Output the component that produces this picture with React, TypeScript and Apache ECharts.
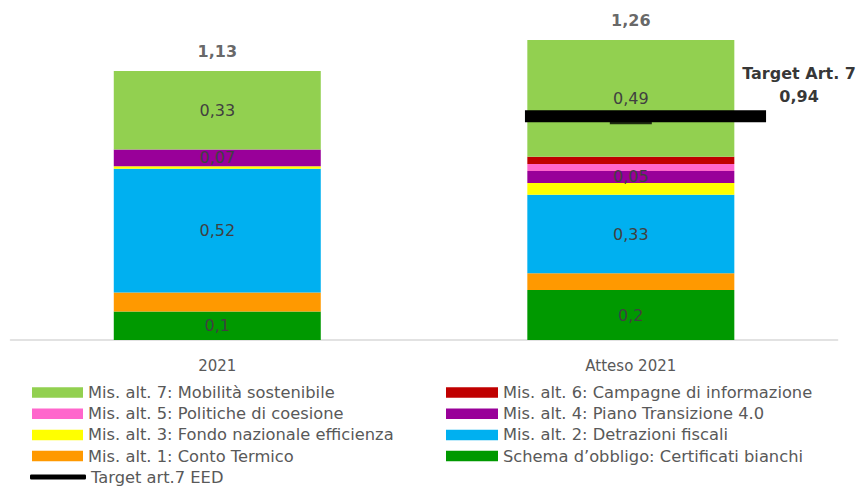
import React, { useEffect, useRef } from "react";
import * as echarts from "echarts";

const categories = ["2021", "Atteso 2021"];
const schemaCB = [0.12, 0.21];
const mis1 = [0.08, 0.07];
const mis2 = [0.52, 0.33];
const mis3 = [0.01, 0.05];
const mis4 = [0.07, 0.05];
const mis5 = [0, 0.03];
const mis6 = [0, 0.03];
const mis7 = [0.33, 0.49];
const schemaLabels = ["0,1", "0,2"];
const targetValue = 0.94;

const FONT = "DejaVu Sans";
const fmt = (v: number) => String(Math.round(v * 100) / 100).replace(".", ",");

const seriesDefs = [
  { name: "Schema d\u2019obbligo: Certificati bianchi", data: schemaCB, color: "#009900", labels: schemaLabels },
  { name: "Mis. alt. 1: Conto Termico", data: mis1, color: "#FF9900", labels: null },
  { name: "Mis. alt. 2: Detrazioni fiscali", data: mis2, color: "#00B0F0", labels: mis2.map(fmt) },
  { name: "Mis. alt. 3: Fondo nazionale efficienza", data: mis3, color: "#FFFF00", labels: null },
  { name: "Mis. alt. 4: Piano Transizione 4.0", data: mis4, color: "#990099", labels: mis4.map(fmt) },
  { name: "Mis. alt. 5: Politiche di coesione", data: mis5, color: "#FF66CC", labels: null },
  { name: "Mis. alt. 6: Campagne di informazione", data: mis6, color: "#C00000", labels: null },
  { name: "Mis. alt. 7: Mobilità sostenibile", data: mis7, color: "#92D050", labels: mis7.map(fmt) },
];
const targetName = "Target art.7 EED";

export default function App() {
  const ref = useRef<HTMLDivElement>(null);
  useEffect(() => {
    if (!ref.current) return;
    const chart = echarts.init(ref.current, null, { renderer: "svg" });
    const totals = categories.map((_, i) =>
      Math.round(seriesDefs.reduce((s, d) => s + d.data[i], 0) * 100) / 100
    );
    const legendText = { color: "#595959", fontSize: 16.3, fontFamily: FONT, lineHeight: 16 };
    const barSeries = seriesDefs.map((d) => ({
      name: d.name,
      type: "bar",
      stack: "total",
      barWidth: 207,
      itemStyle: { color: d.color },
      data: d.data.map((v, i) => ({
        value: v,
        label: {
          show: !!(d.labels && d.labels[i]),
          formatter: d.labels ? d.labels[i] : "",
        },
      })),
      label: {
        show: false,
        position: "inside",
        color: "#404040",
        fontSize: 16,
        fontFamily: FONT,
      },
    }));
    chart.setOption({
      animation: false,
      grid: { left: 10.5, right: 27.4, top: 6.8, bottom: 146, containLabel: false },
      xAxis: [
        {
          type: "category",
          data: categories,
          axisLine: { lineStyle: { color: "#D9D9D9", width: 1.5 } },
          axisTick: { show: false },
          axisLabel: { color: "#595959", fontSize: 15, fontFamily: FONT, margin: 18 },
        },
        { type: "value", min: 0, max: 2, show: false },
      ],
      yAxis: { type: "value", min: 0, max: 1.4, show: false, splitLine: { show: false } },
      legend: [
        {
          orient: "vertical",
          left: 32,
          top: 384.5,
          padding: 0,
          itemWidth: 51,
          itemHeight: 10.5,
          itemGap: 5.2,
          icon: "rect",
          textStyle: legendText,
          data: [
            "Mis. alt. 7: Mobilità sostenibile",
            "Mis. alt. 5: Politiche di coesione",
            "Mis. alt. 3: Fondo nazionale efficienza",
            "Mis. alt. 1: Conto Termico",
          ],
        },
        {
          orient: "vertical",
          left: 446,
          top: 384.5,
          padding: 0,
          itemWidth: 52,
          itemHeight: 10.5,
          itemGap: 5.2,
          icon: "rect",
          textStyle: legendText,
          data: [
            "Mis. alt. 6: Campagne di informazione",
            "Mis. alt. 4: Piano Transizione 4.0",
            "Mis. alt. 2: Detrazioni fiscali",
            "Schema d\u2019obbligo: Certificati bianchi",
          ],
        },
        {
          orient: "vertical",
          left: 30,
          top: 469,
          padding: 0,
          itemWidth: 56,
          itemHeight: 5,
          icon: "roundRect",
          textStyle: legendText,
          data: [targetName],
        },
      ],
      series: [
        ...barSeries,
        {
          name: "totals",
          type: "scatter",
          symbolSize: 0,
          data: totals.map((t, i) => [i, t]),
          label: {
            show: true,
            position: "top",
            distance: 12,
            formatter: (p: any) => fmt(p.value[1]),
            color: "#404040",
            fontSize: 16,
            fontWeight: "bold",
            fontFamily: FONT,
          },
          itemStyle: { color: "transparent" },
          silent: true,
        },
        {
          name: targetName,
          type: "line",
          xAxisIndex: 1,
          symbol: "none",
          lineStyle: { color: "#000000", width: 12 },
          itemStyle: { color: "#000000" },
          data: [
            [1.244, targetValue],
            [1.827, targetValue],
          ],
          z: 5,
        },
        {
          name: "targetMarker",
          type: "scatter",
          xAxisIndex: 1,
          symbol: "rect",
          symbolSize: [42, 8],
          symbolOffset: [0, 4],
          itemStyle: { color: "#000000" },
          data: [[1.5, targetValue]],
          z: 4,
        },
        {
          name: "targetLabel",
          type: "scatter",
          xAxisIndex: 1,
          symbolSize: 0,
          itemStyle: { color: "transparent" },
          data: [[1.827, targetValue]],
          label: {
            show: true,
            position: "inside",
            offset: [33, -31],
            align: "center",
            formatter: () => `Target Art. 7\n${fmt(targetValue)}`,
            color: "#000000",
            fontSize: 16,
            fontWeight: "bold",
            fontFamily: FONT,
            lineHeight: 23,
          },
          z: 6,
        },
      ],
    });
    return () => chart.dispose();
  }, []);
  return (
    <div
      ref={ref}
      style={{ position: "fixed", left: 0, top: 0, width: 865, height: 486, background: "#fff" }}
    />
  );
}
